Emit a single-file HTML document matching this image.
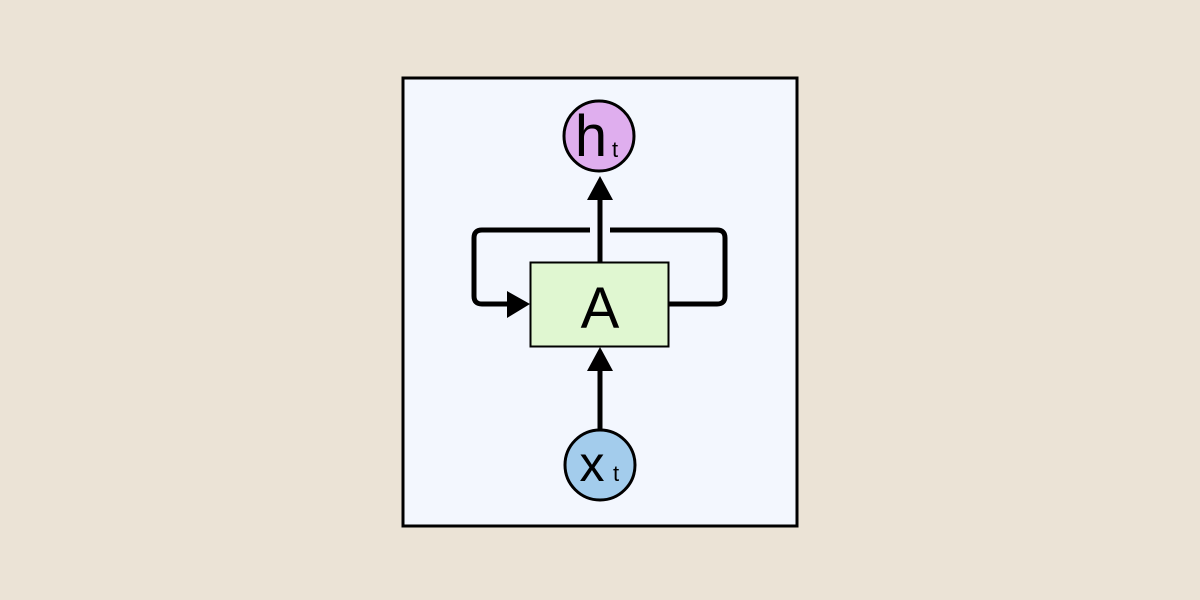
<!DOCTYPE html>
<html><head><meta charset="utf-8"><style>
html,body{margin:0;padding:0;background:#ebe3d6;width:1200px;height:600px;overflow:hidden}
</style></head><body>
<svg width="1200" height="600" viewBox="0 0 1200 600" xmlns="http://www.w3.org/2000/svg">
<rect x="0" y="0" width="1200" height="600" fill="#ebe3d6"/>
<rect x="403" y="78" width="394" height="448" fill="#f3f7fe" stroke="#000" stroke-width="3"/>
<path d="M669 304 H717 Q725 304 725 296 V238 Q725 230 717 230 H610" fill="none" stroke="#000" stroke-width="5"/>
<path d="M590 230 H482 Q474 230 474 238 V296 Q474 304 482 304 H510" fill="none" stroke="#000" stroke-width="5"/>
<polygon points="507,291 530,304 507,318" fill="#000"/>
<line x1="600" y1="262" x2="600" y2="196" stroke="#000" stroke-width="5"/>
<polygon points="587,200 600,176 613,200" fill="#000"/>
<line x1="600" y1="430" x2="600" y2="366" stroke="#000" stroke-width="5"/>
<polygon points="587,371 600,347 613,371" fill="#000"/>
<rect x="530.5" y="262.5" width="138" height="84" fill="#e0f7d1" stroke="#000" stroke-width="2"/>
<text x="600" y="328" font-family="Liberation Sans, sans-serif" font-size="58" text-anchor="middle" fill="#000">A</text>
<circle cx="599" cy="136" r="35" fill="#dfaeee" stroke="#000" stroke-width="3"/>
<text x="591" y="156" font-family="Liberation Sans, sans-serif" font-size="58" text-anchor="middle" fill="#000">h</text>
<text x="615" y="157" font-family="Liberation Sans, sans-serif" font-size="22" text-anchor="middle" fill="#000">t</text>
<circle cx="600" cy="465" r="35" fill="#a3ccec" stroke="#000" stroke-width="3"/>
<text x="592" y="481" font-family="Liberation Sans, sans-serif" font-size="50" text-anchor="middle" fill="#000">x</text>
<text x="616" y="481" font-family="Liberation Sans, sans-serif" font-size="22" text-anchor="middle" fill="#000">t</text>
</svg>
</body></html>
